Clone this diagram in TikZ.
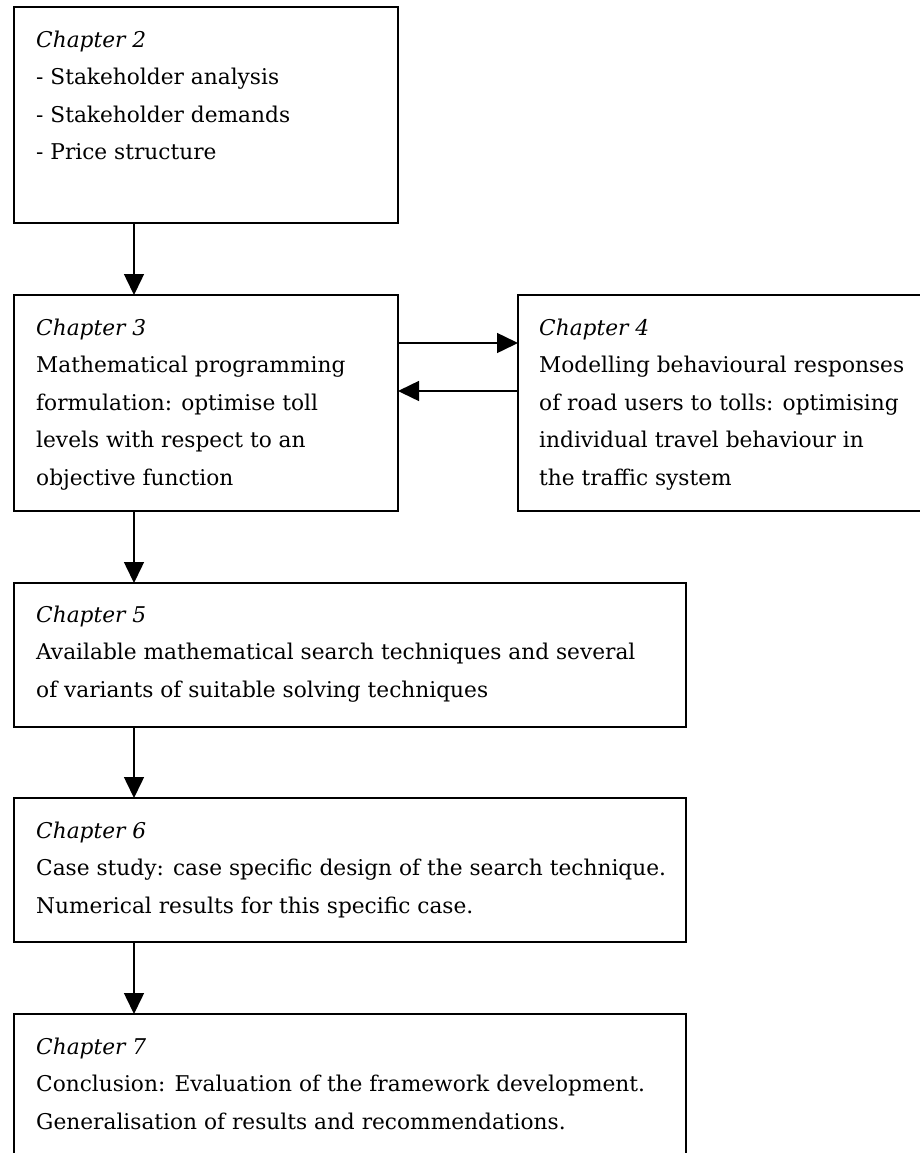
\documentclass[tikz,border=0pt]{standalone}
\usepackage{fontspec}
\setmainfont{DejaVu Serif}
\usetikzlibrary{arrows.meta}
\newcommand{\chlines}[1]{\begin{tabular}[t]{@{}l@{}}#1\end{tabular}}
\tikzset{
  box/.style={draw=black, line width=1.5bp, rectangle, anchor=north west, inner sep=0pt, outer sep=0pt},
  txt/.style={anchor=base west, inner sep=0pt, font=\fontsize{21.7bp}{37.5bp}\selectfont},
  arr/.style={line width=1.5bp, -{Triangle[length=21bp,width=20bp]}}
}
\begin{document}
\begin{tikzpicture}[x=1bp,y=-1bp]
\path[use as bounding box] (0,0) rectangle (920,1153);
\clip (0,0) rectangle (920,1153);
% boxes
\node[box, minimum width=384bp, minimum height=216bp] (c2) at (14,7) {};
\node[box, minimum width=384bp, minimum height=216bp] (c3) at (14,295) {};
\node[box, minimum width=430bp, minimum height=216bp] (c4) at (518,295) {};
\node[box, minimum width=672bp, minimum height=144bp] (c5) at (14,583) {};
\node[box, minimum width=672bp, minimum height=144bp] (c6) at (14,798) {};
\node[box, minimum width=672bp, minimum height=180bp] (c7) at (14,1014) {};
% texts
\node[txt] (t2) at (36,47) {\chlines{\textit{Chapter 2}\\- Stakeholder analysis\\- Stakeholder demands\\- Price structure}};
\node[txt] (t3) at (36,335) {\chlines{\textit{Chapter 3}\\Mathematical programming\\formulation: optimise toll\\levels with respect to an\\objective function}};
\node[txt] (t4) at (539,335) {\chlines{\textit{Chapter 4}\\Modelling behavioural responses\\of road users to tolls: optimising\\individual travel behaviour in\\the traffic system}};
\node[txt] (t5) at (36,622) {\chlines{\textit{Chapter 5}\\Available mathematical search techniques and several\\of variants of suitable solving techniques}};
\node[txt] (t6) at (36,838) {\chlines{\textit{Chapter 6}\\Case study: case specific design of the search technique.\\Numerical results for this specific case.}};
\node[txt] (t7) at (36,1054) {\chlines{\textit{Chapter 7}\\Conclusion: Evaluation of the framework development.\\Generalisation of results and recommendations.}};
% arrows
\draw[arr] ([xshift=120bp]c2.south west) -- ([xshift=120bp]c3.north west);
\draw[arr] ([xshift=120bp]c3.south west) -- ([xshift=120bp]c5.north west);
\draw[arr] ([xshift=120bp]c5.south west) -- ([xshift=120bp]c6.north west);
\draw[arr] ([xshift=120bp]c6.south west) -- ([xshift=120bp]c7.north west);
\draw[arr] ([yshift=-48bp]c3.north east) -- ([yshift=-48bp]c4.north west);
\draw[arr] ([yshift=-96bp]c4.north west) -- ([yshift=-96bp]c3.north east);
\end{tikzpicture}
\end{document}
